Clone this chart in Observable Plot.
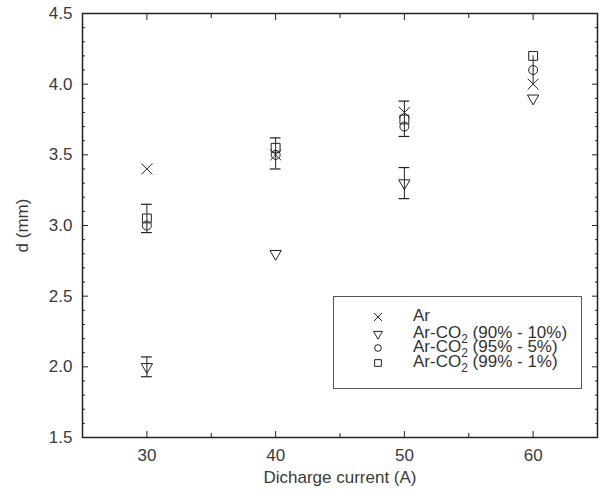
<!DOCTYPE html>
<html><head><meta charset="utf-8">
<script src="https://cdn.jsdelivr.net/npm/d3@7"></script>
<script src="https://cdn.jsdelivr.net/npm/@observablehq/plot@0.6"></script>
<style>
body{margin:0;background:#fff;}
#wrap{position:relative;width:608px;height:499px;font-family:"Liberation Sans",Arial,sans-serif;color:#333;}
#legend{position:absolute;left:333px;top:296px;width:249px;height:93px;border:1.5px solid #555;box-sizing:border-box;background:#fff;}
.row{position:absolute;left:0;height:15px;font-size:17px;line-height:15px;white-space:nowrap;}
.row svg{position:absolute;left:36px;top:0;}
.row span{position:absolute;left:79px;top:-1px;}
.row sub{font-size:12px;vertical-align:-5px;line-height:0;}
</style></head>
<body><div id="wrap"><div id="chart"></div><div id="legend"></div></div>
<script>
// ---- data ----
const currents = [30, 40, 50, 60];
const arValues = [3.4, 3.5, 3.8, 4.0];
const co2_90 = [2.0, 2.8, 3.3, 3.9];
const co2_95 = [3.0, 3.5, 3.7, 4.1];
const co2_99 = [3.05, 3.55, 3.75, 4.2];
const errX = [30, 30, 40, 50, 50, 60];
const errLow = [2.95, 1.93, 3.40, 3.63, 3.19, 4.0];
const errHigh = [3.15, 2.07, 3.62, 3.88, 3.41, 4.2];
const errCap = [true, true, true, true, true, false];
const seriesNames = ["Ar", "Ar-CO2 (90% - 10%)", "Ar-CO2 (95% - 5%)", "Ar-CO2 (99% - 1%)"];
const xTickLabels = [30, 40, 50, 60];
const yTickLabels = [1.5, 2.0, 2.5, 3.0, 3.5, 4.0, 4.5];

const xDomain = [25, 65], yDomain = [1.5, 4.5];
const xMinor = [35, 45, 55];
const yMinor = d3.range(15, 46).map(d => d / 10).filter(d => !yTickLabels.includes(d));

const symbols = ["times", "triangle", "circle", "square"];
const rotations = [0, 180, 0, 0];
const radii = [5, 4.2, 4.5, 5];
const allSeries = [arValues, co2_90, co2_95, co2_99];
const points = [];
allSeries.forEach((vals, s) => vals.forEach((v, i) => points.push({x: currents[i], y: v, s})));
const errs = errX.map((x, i) => ({x, lo: errLow[i], hi: errHigh[i], cap: errCap[i]}));
const caps = errs.filter(d => d.cap).flatMap(d => [{x: d.x, y: d.lo}, {x: d.x, y: d.hi}]);

const ink = "#222";
const fs = 16;
const chart = Plot.plot({
  width: 608, height: 499,
  marginLeft: 82, marginTop: 13, marginRight: 11, marginBottom: 62,
  style: {fontSize: fs + "px", fontFamily: "'Liberation Sans', Arial, sans-serif", color: "#3a3a3a"},
  x: {domain: xDomain},
  y: {domain: yDomain},
  marks: [
    Plot.frame({stroke: ink, strokeWidth: 1.5}),
    // left axis labels
    Plot.axisY(yTickLabels, {tickSize: 0, tickPadding: 10, fontSize: fs, tickFormat: d3.format(".1f"), label: "d (mm)", labelAnchor: "center", labelOffset: 67, labelArrow: "none"}),
    Plot.axisY(yTickLabels, {tickSize: 6, dx: 6, text: null, label: null, stroke: ink}),
    Plot.axisY(yMinor, {tickSize: 3, dx: 3, text: null, label: null, stroke: ink}),
    Plot.axisY(yTickLabels, {anchor: "right", tickSize: 6, dx: -6, text: null, label: null, stroke: ink}),
    Plot.axisY(yMinor, {anchor: "right", tickSize: 3, dx: -3, text: null, label: null, stroke: ink}),
    // bottom axis
    Plot.axisX(xTickLabels, {tickSize: 0, tickPadding: 11, fontSize: fs, label: "Dicharge current (A)", labelAnchor: "center", labelOffset: 45, labelArrow: "none"}),
    Plot.axisX(xTickLabels, {tickSize: 6, dy: -6, text: null, label: null, stroke: ink}),
    Plot.axisX(xMinor, {tickSize: 4, dy: -4, text: null, label: null, stroke: ink}),
    Plot.axisX(xTickLabels, {anchor: "top", tickSize: 6, dy: 6, text: null, label: null, stroke: ink}),
    Plot.axisX(xMinor, {anchor: "top", tickSize: 4, dy: 4, text: null, label: null, stroke: ink}),
    // error bars
    Plot.ruleX(errs, {x: "x", y1: "lo", y2: "hi", stroke: ink, strokeWidth: 1}),
    Plot.ruleY(caps, {y: "y", x1: d => d.x - 0.42, x2: d => d.x + 0.42, stroke: ink, strokeWidth: 1.2}),
    // points
    ...symbols.map((sym, s) => Plot.dot(points.filter(p => p.s === s), {
      x: "x", y: "y", symbol: sym, r: radii[s], rotate: rotations[s], stroke: ink, strokeWidth: 1, fill: "none"
    }))
  ]
});
document.getElementById("chart").appendChild(chart);
// axis titles a bit larger, as in the reference
d3.select(chart).selectAll("[aria-label$='label'] text, g[aria-label='y-axis label'] text, g[aria-label='x-axis label'] text").attr("font-size", 17);

// legend
const legend = d3.select("#legend");
const rowTops = [12, 29, 43, 58];
const symObjs = [d3.symbolTimes, d3.symbolTriangle, d3.symbolCircle, d3.symbolSquare];
const symSizes = [45, 35, 35, 45];
seriesNames.forEach((name, i) => {
  const row = legend.append("div").attr("class", "row").style("top", rowTops[i] + "px");
  const svg = row.append("svg").attr("width", 16).attr("height", 16);
  svg.append("path").attr("d", d3.symbol(symObjs[i], symSizes[i])())
    .attr("transform", `translate(8,8) rotate(${rotations[i]})`)
    .attr("fill", "none").attr("stroke", ink).attr("stroke-width", 1);
  const parts = name.split("CO2");
  const span = row.append("span");
  if (parts.length === 2) span.html(parts[0] + "CO<sub>2</sub>" + parts[1]);
  else span.text(name);
});
</script></body></html>
